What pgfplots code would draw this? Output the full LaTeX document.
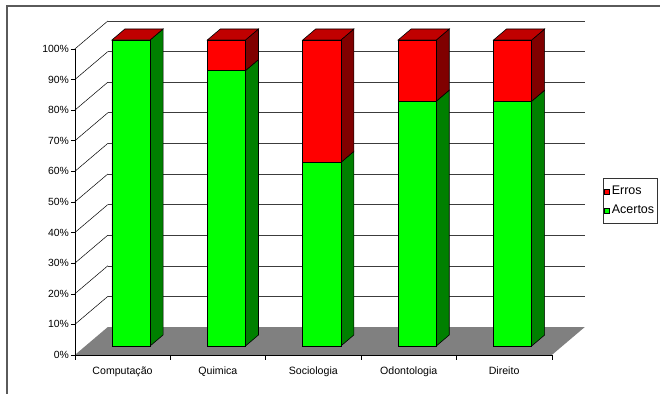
\documentclass[border=0pt]{standalone}
\usepackage{pgfplots}
\pgfplotsset{compat=1.18}
\usepackage{fontspec}
\setmainfont{Liberation Sans}
\definecolor{frontG}{RGB}{0,255,0}
\definecolor{sideG}{RGB}{0,128,0}
\definecolor{frontR}{RGB}{255,0,0}
\definecolor{sideR}{RGB}{128,0,0}
\definecolor{topR}{RGB}{192,0,0}
\definecolor{floorc}{RGB}{128,128,128}
\definecolor{gridc}{RGB}{60,60,60}
\definecolor{framec}{RGB}{90,90,90}
\pgfplotsset{
  common/.style={
    x=95.4bp, y=3.06bp,
    xmin=-0.7, xmax=5, ymin=-12, ymax=110,
    enlargelimits=false,
    hide axis, clip=false,
    anchor=south west, at={(64.22bp,-382.72bp)},
  }
}
\begin{document}
\begin{tikzpicture}
\useasboundingbox (0,0) rectangle (660bp,-394bp);
\draw[framec, line width=1.3bp] (7bp,-500bp) -- (7bp,-6bp) -- (800bp,-6bp);
% ---- decoration axis: walls, floor, 3D faces ----
\begin{axis}[common, no marks]
  % back wall grid lines and left wall diagonals
  \pgfplotsinvokeforeach{10,20,30,40,50,60,70,80,90,100}{
    \draw[gridc, line width=0.6bp] (axis cs:-0.243,{#1+6.21}) -- (axis cs:4.757,{#1+6.21});
    \draw[black, line width=0.5bp] (axis cs:-0.589,{#1-2.94}) -- (axis cs:-0.243,{#1+6.21});
  }
  % floor
  \addplot[fill=floorc, draw=none] coordinates {(-0.589,-2.94) (4.411,-2.94) (4.757,6.21) (-0.243,6.21)} -- cycle;
  % axes lines at the front plane
  \draw[black, line width=0.6bp] (axis cs:-0.589,97.06) -- (axis cs:-0.589,-2.94) -- (axis cs:4.411,-2.94);
  \pgfplotsinvokeforeach{0,10,20,30,40,50,60,70,80,90,100}{
    \draw[black, line width=0.6bp] (axis cs:-0.629,{#1-2.94}) -- (axis cs:-0.589,{#1-2.94});
    \node[anchor=east, inner sep=1.5bp, font=\fontsize{10.4bp}{12bp}\selectfont] at (axis cs:-0.633,{#1-2.94}) {#1\%};
  }
  \pgfplotsinvokeforeach{-0.589,0.411,1.411,2.411,3.411,4.411}{
    \draw[black, line width=0.6bp] (axis cs:#1,-2.94) -- (axis cs:#1,-4.6);
  }
  % category labels
  \node[anchor=base, font=\fontsize{10.6bp}{12bp}\selectfont] at (axis cs:-0.089,-9.3) {Computação};
  \node[anchor=base, font=\fontsize{10.6bp}{12bp}\selectfont] at (axis cs:0.911,-9.3) {Quimica};
  \node[anchor=base, font=\fontsize{10.6bp}{12bp}\selectfont] at (axis cs:1.911,-9.3) {Sociologia};
  \node[anchor=base, font=\fontsize{10.6bp}{12bp}\selectfont] at (axis cs:2.911,-9.3) {Odontologia};
  \node[anchor=base, font=\fontsize{10.6bp}{12bp}\selectfont] at (axis cs:3.911,-9.3) {Direito};
  % side faces (green = Acertos, red = Erros) and top faces
  \addplot[fill=sideG, draw=black, line width=0.6bp] coordinates {(0.2,0) (0.336,3.6) (0.336,103.6) (0.2,100)} -- cycle;
  \addplot[fill=topR, draw=black, line width=0.6bp] coordinates {(-0.2,100) (0.2,100) (0.336,103.6) (-0.064,103.6)} -- cycle;
  \addplot[fill=sideG, draw=black, line width=0.6bp] coordinates {(1.2,0) (1.336,3.6) (1.336,93.6) (1.2,90)} -- cycle;
  \addplot[fill=sideR, draw=black, line width=0.6bp] coordinates {(1.2,90) (1.336,93.6) (1.336,103.6) (1.2,100)} -- cycle;
  \addplot[fill=topR, draw=black, line width=0.6bp] coordinates {(0.8,100) (1.2,100) (1.336,103.6) (0.936,103.6)} -- cycle;
  \addplot[fill=sideG, draw=black, line width=0.6bp] coordinates {(2.2,0) (2.336,3.6) (2.336,63.6) (2.2,60)} -- cycle;
  \addplot[fill=sideR, draw=black, line width=0.6bp] coordinates {(2.2,60) (2.336,63.6) (2.336,103.6) (2.2,100)} -- cycle;
  \addplot[fill=topR, draw=black, line width=0.6bp] coordinates {(1.8,100) (2.2,100) (2.336,103.6) (1.936,103.6)} -- cycle;
  \addplot[fill=sideG, draw=black, line width=0.6bp] coordinates {(3.2,0) (3.336,3.6) (3.336,83.6) (3.2,80)} -- cycle;
  \addplot[fill=sideR, draw=black, line width=0.6bp] coordinates {(3.2,80) (3.336,83.6) (3.336,103.6) (3.2,100)} -- cycle;
  \addplot[fill=topR, draw=black, line width=0.6bp] coordinates {(2.8,100) (3.2,100) (3.336,103.6) (2.936,103.6)} -- cycle;
  \addplot[fill=sideG, draw=black, line width=0.6bp] coordinates {(4.2,0) (4.336,3.6) (4.336,83.6) (4.2,80)} -- cycle;
  \addplot[fill=sideR, draw=black, line width=0.6bp] coordinates {(4.2,80) (4.336,83.6) (4.336,103.6) (4.2,100)} -- cycle;
  \addplot[fill=topR, draw=black, line width=0.6bp] coordinates {(3.8,100) (4.2,100) (4.336,103.6) (3.936,103.6)} -- cycle;
\end{axis}
% ---- bar axis: front faces, stacked ----
\begin{axis}[common,
  ybar stacked, bar width=0.4,
  reverse legend,
  legend style={at={(0.9908,0.5484)}, anchor=north west,
    draw=black!80, line width=0.6bp,
    font=\fontsize{12.5bp}{14bp}\selectfont,
    inner xsep=1bp, inner ysep=6bp, row sep=5bp,
    /tikz/every even column/.append style={column sep=0bp}},
  legend cell align=left,
  legend image code/.code={\draw[#1, draw=black, line width=0.5bp] (0bp,-2.5bp) rectangle (5bp,2.5bp);},
]
  \addplot[fill=frontG, draw=black, line width=0.6bp] coordinates {(0,100) (1,90) (2,60) (3,80) (4,80)};
  \addplot[fill=frontR, draw=black, line width=0.6bp] coordinates {(0,0) (1,10) (2,40) (3,20) (4,20)};
  \legend{Acertos, Erros}
\end{axis}
\end{tikzpicture}
\end{document}
